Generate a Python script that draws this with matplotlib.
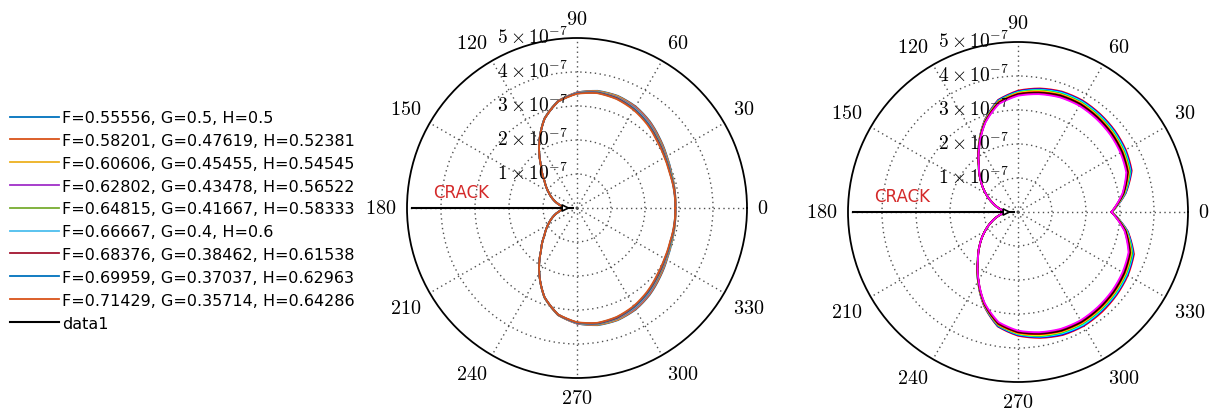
import numpy as np
import matplotlib
matplotlib.use("Agg")
import matplotlib.pyplot as plt
from matplotlib.transforms import offset_copy

plt.rcParams['mathtext.fontset'] = 'cm'

# ---------------- data (radii in units of 1e-7) ----------------
angles_deg = [0, 10, 20, 30, 40, 50, 60, 70, 80, 90, 100, 110, 120, 130, 140, 150, 160, 170,
              180, 190, 200, 210, 220, 230, 240, 250, 260, 270, 280, 290, 300, 310, 320, 330, 340, 350]

series_labels = ["F=0.55556, G=0.5, H=0.5",
                 "F=0.58201, G=0.47619, H=0.52381",
                 "F=0.60606, G=0.45455, H=0.54545",
                 "F=0.62802, G=0.43478, H=0.56522",
                 "F=0.64815, G=0.41667, H=0.58333",
                 "F=0.66667, G=0.4, H=0.6",
                 "F=0.68376, G=0.38462, H=0.61538",
                 "F=0.69959, G=0.37037, H=0.62963",
                 "F=0.71429, G=0.35714, H=0.64286"]

left_r1 = [2.89, 2.92, 2.96, 3.05, 3.18, 3.33, 3.45, 3.51, 3.50, 3.40, 3.20, 2.80, 2.22, 1.65, 1.25, 0.98, 0.75, 0.52,
           0.33, 0.52, 0.75, 0.98, 1.25, 1.65, 2.22, 2.80, 3.20, 3.40, 3.50, 3.51, 3.45, 3.33, 3.18, 3.05, 2.96, 2.92]
left_r2 = [2.89, 2.92, 2.95, 3.04, 3.17, 3.32, 3.44, 3.50, 3.49, 3.40, 3.20, 2.80, 2.22, 1.65, 1.25, 0.98, 0.75, 0.52,
           0.33, 0.52, 0.75, 0.98, 1.25, 1.65, 2.22, 2.80, 3.20, 3.40, 3.49, 3.50, 3.44, 3.32, 3.17, 3.04, 2.95, 2.92]
left_r3 = [2.89, 2.92, 2.95, 3.03, 3.15, 3.30, 3.42, 3.49, 3.48, 3.39, 3.20, 2.80, 2.22, 1.65, 1.25, 0.98, 0.75, 0.52,
           0.33, 0.52, 0.75, 0.98, 1.25, 1.65, 2.22, 2.80, 3.20, 3.39, 3.48, 3.49, 3.42, 3.30, 3.15, 3.03, 2.95, 2.92]
left_r4 = [2.89, 2.91, 2.94, 3.02, 3.14, 3.29, 3.41, 3.47, 3.47, 3.39, 3.19, 2.80, 2.22, 1.65, 1.25, 0.98, 0.75, 0.52,
           0.33, 0.52, 0.75, 0.98, 1.25, 1.65, 2.22, 2.80, 3.19, 3.39, 3.47, 3.47, 3.41, 3.29, 3.14, 3.02, 2.94, 2.91]
left_r5 = [2.89, 2.91, 2.94, 3.01, 3.13, 3.27, 3.39, 3.46, 3.47, 3.38, 3.19, 2.80, 2.22, 1.65, 1.25, 0.98, 0.75, 0.52,
           0.33, 0.52, 0.75, 0.98, 1.25, 1.65, 2.22, 2.80, 3.19, 3.38, 3.47, 3.46, 3.39, 3.27, 3.13, 3.01, 2.94, 2.91]
left_r6 = [2.89, 2.91, 2.93, 3.00, 3.11, 3.26, 3.38, 3.45, 3.46, 3.38, 3.19, 2.79, 2.22, 1.65, 1.25, 0.98, 0.75, 0.52,
           0.33, 0.52, 0.75, 0.98, 1.25, 1.65, 2.22, 2.79, 3.19, 3.38, 3.46, 3.45, 3.38, 3.26, 3.11, 3.00, 2.93, 2.91]
left_r7 = [2.89, 2.91, 2.92, 2.99, 3.10, 3.24, 3.36, 3.44, 3.45, 3.37, 3.19, 2.79, 2.22, 1.65, 1.25, 0.98, 0.75, 0.52,
           0.33, 0.52, 0.75, 0.98, 1.25, 1.65, 2.22, 2.79, 3.19, 3.37, 3.45, 3.44, 3.36, 3.24, 3.10, 2.99, 2.92, 2.91]
left_r8 = [2.89, 2.90, 2.92, 2.98, 3.08, 3.23, 3.35, 3.42, 3.44, 3.37, 3.18, 2.79, 2.22, 1.65, 1.25, 0.98, 0.75, 0.52,
           0.33, 0.52, 0.75, 0.98, 1.25, 1.65, 2.22, 2.79, 3.18, 3.37, 3.44, 3.42, 3.35, 3.23, 3.08, 2.98, 2.92, 2.90]
left_r9 = [2.89, 2.90, 2.91, 2.97, 3.07, 3.21, 3.33, 3.41, 3.43, 3.36, 3.18, 2.79, 2.22, 1.65, 1.25, 0.98, 0.75, 0.52,
           0.33, 0.52, 0.75, 0.98, 1.25, 1.65, 2.22, 2.79, 3.18, 3.36, 3.43, 3.41, 3.33, 3.21, 3.07, 2.97, 2.91, 2.90]

right_r1 = [2.76, 3.22, 3.56, 3.66, 3.72, 3.76, 3.79, 3.77, 3.69, 3.57, 3.35, 2.87, 2.30, 1.80, 1.43, 1.10, 0.80, 0.55,
            0.33, 0.56, 0.82, 1.12, 1.46, 1.84, 2.35, 2.93, 3.42, 3.64, 3.76, 3.85, 3.87, 3.84, 3.79, 3.73, 3.63, 3.28]
right_r2 = [2.76, 3.21, 3.54, 3.64, 3.70, 3.74, 3.77, 3.75, 3.67, 3.55, 3.34, 2.86, 2.30, 1.80, 1.43, 1.10, 0.80, 0.55,
            0.33, 0.56, 0.82, 1.12, 1.46, 1.84, 2.35, 2.92, 3.41, 3.62, 3.74, 3.83, 3.85, 3.81, 3.77, 3.71, 3.61, 3.27]
right_r3 = [2.76, 3.20, 3.52, 3.62, 3.68, 3.72, 3.75, 3.73, 3.65, 3.53, 3.32, 2.85, 2.29, 1.80, 1.43, 1.10, 0.80, 0.55,
            0.33, 0.56, 0.82, 1.12, 1.46, 1.84, 2.34, 2.91, 3.39, 3.60, 3.72, 3.80, 3.83, 3.79, 3.75, 3.69, 3.59, 3.26]
right_r4 = [2.76, 3.18, 3.50, 3.59, 3.65, 3.69, 3.72, 3.70, 3.63, 3.51, 3.31, 2.84, 2.29, 1.80, 1.43, 1.10, 0.80, 0.55,
            0.33, 0.56, 0.82, 1.12, 1.46, 1.84, 2.34, 2.90, 3.38, 3.58, 3.70, 3.77, 3.79, 3.76, 3.72, 3.66, 3.57, 3.24]
right_r5 = [2.76, 3.17, 3.47, 3.57, 3.63, 3.67, 3.70, 3.68, 3.61, 3.50, 3.29, 2.84, 2.29, 1.80, 1.43, 1.10, 0.80, 0.55,
            0.33, 0.56, 0.82, 1.12, 1.46, 1.84, 2.34, 2.90, 3.36, 3.57, 3.68, 3.75, 3.77, 3.74, 3.70, 3.64, 3.54, 3.23]
right_r6 = [2.75, 3.16, 3.45, 3.55, 3.61, 3.65, 3.68, 3.66, 3.58, 3.48, 3.28, 2.83, 2.28, 1.79, 1.43, 1.10, 0.80, 0.55,
            0.33, 0.56, 0.82, 1.12, 1.46, 1.83, 2.33, 2.89, 3.35, 3.55, 3.65, 3.73, 3.75, 3.72, 3.68, 3.62, 3.52, 3.22]
right_r7 = [2.75, 3.15, 3.43, 3.53, 3.59, 3.63, 3.66, 3.64, 3.56, 3.46, 3.26, 2.82, 2.28, 1.79, 1.43, 1.10, 0.80, 0.55,
            0.33, 0.56, 0.82, 1.12, 1.46, 1.83, 2.33, 2.88, 3.33, 3.53, 3.63, 3.71, 3.73, 3.70, 3.66, 3.60, 3.50, 3.21]
right_r8 = [2.75, 3.13, 3.41, 3.50, 3.56, 3.60, 3.63, 3.61, 3.54, 3.44, 3.25, 2.81, 2.27, 1.79, 1.43, 1.10, 0.80, 0.55,
            0.33, 0.56, 0.82, 1.12, 1.46, 1.83, 2.32, 2.87, 3.32, 3.51, 3.61, 3.68, 3.70, 3.67, 3.63, 3.57, 3.48, 3.19]
right_r9 = [2.75, 3.12, 3.39, 3.48, 3.54, 3.58, 3.61, 3.59, 3.52, 3.42, 3.23, 2.80, 2.27, 1.79, 1.43, 1.10, 0.80, 0.55,
            0.33, 0.56, 0.82, 1.12, 1.46, 1.83, 2.32, 2.86, 3.29, 3.49, 3.59, 3.66, 3.68, 3.65, 3.61, 3.55, 3.46, 3.18]

left_series = [left_r1, left_r2, left_r3, left_r4, left_r5, left_r6, left_r7, left_r8, left_r9]
right_series = [right_r1, right_r2, right_r3, right_r4, right_r5, right_r6, right_r7, right_r8, right_r9]

left_colors = ['#0072BD', '#D95319', '#EDB120', '#A02FC8', '#77AC30', '#4DBEEE', '#A2142F', '#0072BD', '#D95319']
right_colors = ['red', 'blue', 'cyan', '#22bb22', 'yellow', 'red', 'black', '#7f0000', 'magenta']

r_ticks = [1, 2, 3, 4, 5]
r_tick_labels = [r'$1\times10^{-7}$', r'$2\times10^{-7}$', r'$3\times10^{-7}$',
                 r'$4\times10^{-7}$', r'$5\times10^{-7}$']
theta_ticks = [0, 30, 60, 90, 120, 150, 180, 210, 240, 270, 300, 330]

crack_theta_deg = 180
crack_r = [4.85, 0.12]
r_max = 5

# ---------------- figure ----------------
fig = plt.figure(figsize=(12.15, 4.1), dpi=100)

R_PX = 170
def polar_axes(cx, cy):
    left = (cx - R_PX) / 1215
    bottom = (410 - cy - R_PX) / 410
    return fig.add_axes([left, bottom, 2 * R_PX / 1215, 2 * R_PX / 410], projection='polar')

ax1 = polar_axes(577, 209)
ax2 = polar_axes(1018, 213)

th = np.deg2rad(np.append(angles_deg, 360))

def style(ax):
    ax.set_rlim(0, r_max)
    ax.set_rticks(r_ticks[:-1])
    ax.set_yticklabels([])
    ax.set_thetagrids(theta_ticks, [''] * len(theta_ticks))
    ax.grid(True, color='#505050', linestyle=(0, (1, 2.5)), linewidth=1.0)
    ax.spines['polar'].set_linewidth(1.3)
    ax.spines['polar'].set_color('black')
    ax.tick_params(length=0)
    for t in theta_ticks:
        c, s = np.cos(np.deg2rad(t)), np.sin(np.deg2rad(t))
        ha = 'left' if c > 0.01 else ('right' if c < -0.01 else 'center')
        va = 'bottom' if s > 0.01 else ('top' if s < -0.01 else 'center')
        ax.text(np.deg2rad(t), r_max * 1.06, r'$%d$' % t, ha=ha, va=va, fontsize=14.5,
                clip_on=False)
    tr = offset_copy(ax.transData, fig=fig, x=-80, y=-5, units='dots')
    for rv, lab in zip(r_ticks, r_tick_labels):
        ax.text(np.pi / 2, rv, lab, ha='left', va='baseline', fontsize=14, transform=tr,
                clip_on=False)

def draw(ax, series, colors, labels):
    handles = []
    for vals, col, lab in zip(series, colors, labels):
        r = np.append(vals, vals[0])
        h, = ax.plot(th, r, color=col, lw=1.3, label=lab)
        h._path._interpolation_steps = 16   # let the polar transform draw curved segments
        handles.append(h)
    ct = np.deg2rad(crack_theta_deg)
    hc, = ax.plot([ct, ct], crack_r, color='black', lw=1.5, label='data1')
    ax.annotate('', xy=(ct, crack_r[1]), xytext=(ct, crack_r[1] + 0.5),
                arrowprops=dict(arrowstyle='-|>', color='black', lw=1.2, mutation_scale=11,
                                fc='white'))
    handles.append(hc)
    ax.text(0.158, 0.547, 'CRACK', transform=ax.transAxes, ha='center', va='center',
            color='#d42a2a', fontsize=12, family='DejaVu Sans')
    return handles

style(ax1)
style(ax2)
h1 = draw(ax1, left_series, left_colors, series_labels)
draw(ax2, right_series, right_colors, series_labels)

fig.legend(h1, series_labels + ['data1'], loc='upper left', bbox_to_anchor=(0.008, 0.729),
           frameon=False, borderpad=0, borderaxespad=0, handlelength=3.1, handletextpad=0.2,
           labelspacing=0.49, prop={'family': 'DejaVu Sans', 'size': 11.5})

fig.savefig('out.png', dpi=100)
